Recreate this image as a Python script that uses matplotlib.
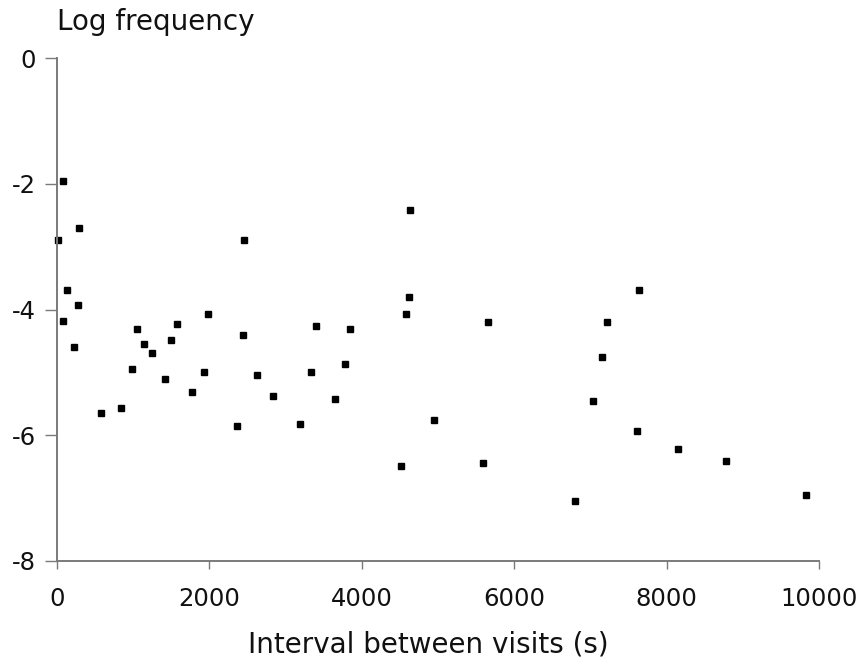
import matplotlib
matplotlib.use("Agg")
import matplotlib.pyplot as plt

# interval between visits (s) and log frequency
intervalo = [10, 80, 290, 130, 280, 75, 227, 573, 840, 980,
             1050, 1146, 1251, 1413, 1496, 1571, 1776, 1925, 1986, 2358,
             2454, 2437, 2621, 2839, 3185, 3333, 3405, 3644, 3776, 3849,
             4514, 4576, 4619, 4633, 4951, 5587, 5656, 6794, 7030, 7148,
             7214, 7608, 7642, 8150, 8780, 9833]
log_freq = [-2.90, -1.96, -2.71, -3.69, -3.93, -4.19, -4.60, -5.64, -5.56, -4.94,
            -4.31, -4.55, -4.69, -5.10, -4.48, -4.23, -5.31, -5.00, -4.07, -5.86,
            -2.89, -4.40, -5.04, -5.37, -5.82, -5.00, -4.27, -5.43, -4.87, -4.31,
            -6.49, -4.07, -3.80, -2.41, -5.75, -6.44, -4.20, -7.04, -5.45, -4.75,
            -4.20, -5.94, -3.69, -6.22, -6.41, -6.95]

xticks = [0, 2000, 4000, 6000, 8000, 10000]
yticks = [0, -2, -4, -6, -8]

plt.rcParams['font.family'] = ['DejaVu Sans']
plt.rcParams['axes.unicode_minus'] = False  # hifen simples como no original
cor_texto = '#111111'
cor_eixo = '#7a7a7a'

fig = plt.figure(figsize=(8.64, 6.72), dpi=100)
ax = fig.add_axes([57 / 864, 1 - 561 / 672, (819 - 57) / 864, (561 - 58) / 672])

ax.plot(intervalo, log_freq, linestyle='none', marker='s', markersize=4.5,
        color='black', clip_on=False)

ax.set_xlim(0, 10000)
ax.set_ylim(-8, 0)
ax.set_xticks(xticks)
ax.set_yticks(yticks)

for lado in ['top', 'right']:
    ax.spines[lado].set_visible(False)
for lado in ['left', 'bottom']:
    ax.spines[lado].set_color(cor_eixo)
    ax.spines[lado].set_linewidth(1.4)

ax.tick_params(axis='x', length=6, width=1, color=cor_eixo, pad=13,
               labelsize=17.5, labelcolor=cor_texto)
ax.tick_params(axis='y', length=9, width=1, color=cor_eixo, pad=6,
               labelsize=17.5, labelcolor=cor_texto)

fig.text(57 / 864, 1 - 22 / 672, 'Log frequency', ha='left', va='center',
         fontsize=20, color=cor_texto)
fig.text(428 / 864, 1 - 645 / 672, 'Interval between visits (s)', ha='center',
         va='center', fontsize=20, color=cor_texto)

fig.savefig('out.png', dpi=100)
